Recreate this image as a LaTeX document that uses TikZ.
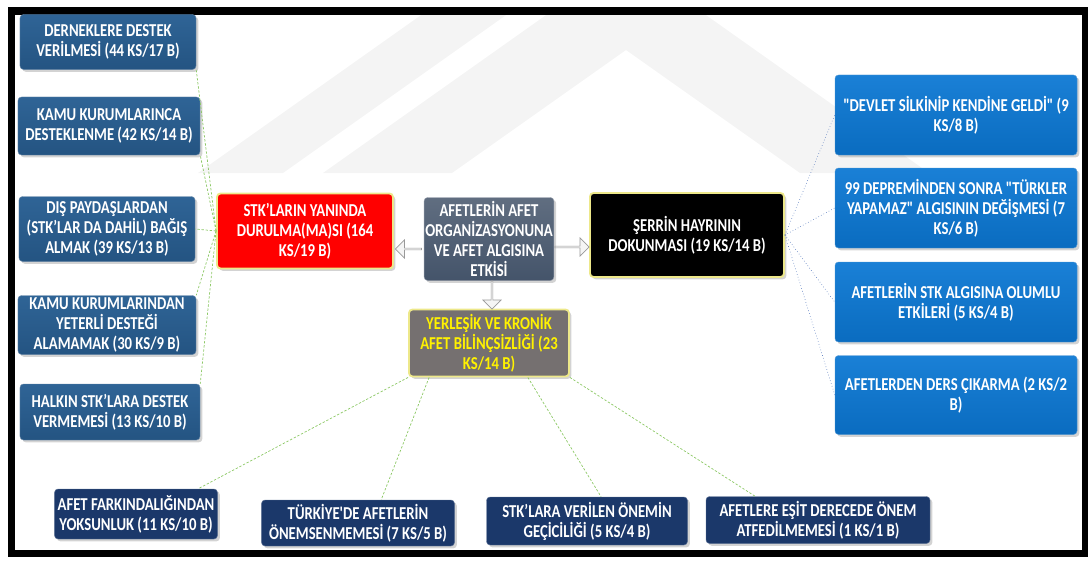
\documentclass[tikz,border=0pt]{standalone}
\usepackage{fontspec}
\setmainfont{Carlito}[FakeStretch=0.81]
\newfontfamily\plainquote{Carlito}[FakeStretch=0.81]
\newcommand{\straightdq}{{\plainquote\bfseries"}}
\usepackage{xcolor}
\usetikzlibrary{positioning, calc, shadows, shapes.arrows}
\definecolor{leftblue}{HTML}{245482}
\definecolor{leftblueTop}{HTML}{2F6496}
\definecolor{rightblue}{HTML}{0A6CC0}
\definecolor{rightblueTop}{HTML}{1A80D6}
\definecolor{navyblue}{HTML}{1B386A}
\definecolor{slateblue}{HTML}{44546A}
\definecolor{darkgray}{HTML}{757070}
\definecolor{glowyellow}{HTML}{EDE88A}
\definecolor{linegreen}{HTML}{8CC865}
\definecolor{lineblue}{HTML}{4A6FB8}
\definecolor{watermark}{HTML}{F4F4F4}

\begin{document}
\begin{tikzpicture}[
    x=0.03cm, y=-0.03cm,
    box/.style={
        rectangle, rounded corners=3pt, align=center, inner sep=1pt,
        font=\bfseries\fontsize{15.5}{17}\selectfont, text=white,
        drop shadow={opacity=0.35, shadow xshift=2pt, shadow yshift=-2pt}
    },
    lblock/.style={box, top color=leftblueTop, bottom color=leftblue, draw=leftblue!70!white, line width=0.4pt},
    rblock/.style={box, top color=rightblueTop, bottom color=rightblue, draw=rightblue!70!white, line width=0.4pt},
    bblock/.style={box, fill=navyblue, draw=navyblue!70!white, line width=0.4pt},
    glowblock/.style={box, draw=glowyellow, line width=1.6pt},
    harrow/.style={single arrow, draw=gray!80, fill=gray!8, line width=0.6pt,
        inner sep=0pt, minimum width=0.54cm, single arrow head extend=0.1cm},
    gline/.style={draw=linegreen, line width=0.6pt, dash pattern=on 2pt off 1.5pt},
    bline/.style={draw=lineblue, line width=0.5pt, dotted},
]
\useasboundingbox (0,0) rectangle (1088,561);

% ── Watermark ────────────────────────────────────────────────────────────
\fill[watermark] (198,173) -- (283,173) -- (509,13) -- (424,13) -- cycle;
\fill[watermark] (323,173) -- (549,13) -- (703,13) -- (929,173) -- (800,173)
    -- (626,50) -- (452,173) -- cycle;

% ── Frame ────────────────────────────────────────────────────────────────
\draw[line width=0.21cm] (11.5,11) rectangle (1085.5,553);

% ── Left column ──────────────────────────────────────────────────────────
\node[lblock, minimum width=5.28cm, minimum height=1.65cm] (dernek) at (108,42)
    {DERNEKLERE DESTEK\\VERİLMESİ (44 KS/17 B)};
\node[lblock, minimum width=5.46cm, minimum height=1.74cm] (kamu_destek) at (109,126)
    {KAMU KURUMLARINCA\\DESTEKLENME (42 KS/14 B)};
\node[lblock, minimum width=5.28cm, minimum height=1.95cm] (dis_bagis) at (107,229)
    {DIŞ PAYDAŞLARDAN\\(STK’LAR DA DAHİL) BAĞIŞ\\ALMAK (39 KS/13 B)};
\node[lblock, minimum width=5.34cm, minimum height=1.77cm] (kamu_yetersiz) at (107,325)
    {KAMU KURUMLARINDAN\\YETERLİ DESTEĞİ\\ALAMAMAK (30 KS/9 B)};
\node[lblock, minimum width=5.40cm, minimum height=1.68cm] (halk) at (110,412)
    {HALKIN STK’LARA DESTEK\\VERMEMESİ (13 KS/10 B)};

% ── Centre ───────────────────────────────────────────────────────────────
\node[glowblock, fill=red, minimum width=5.28cm, minimum height=2.25cm] (stk) at (305,231)
    {STK’LARIN YANINDA\\DURULMA(MA)SI (164\\KS/19 B)};
\node[box, top color=slateblue!85!white, bottom color=slateblue, draw=slateblue!60!white,
      minimum width=3.87cm, minimum height=2.49cm] (etki) at (489,239)
    {AFETLERİN AFET\\ORGANİZASYONUNA\\VE AFET ALGISINA\\ETKİSİ};
\node[glowblock, fill=darkgray, text=yellow, minimum width=4.8cm, minimum height=2.01cm]
    (bilincsiz) at (489,343)
    {YERLEŞİK VE KRONİK\\AFET BİLİNÇSİZLİĞİ (23\\KS/14 B)};
\node[glowblock, fill=black, minimum width=5.82cm, minimum height=2.52cm] (serrin) at (687,235)
    {ŞERRİN HAYRININ\\DOKUNMASI (19 KS/14 B)};

% ── Right column ─────────────────────────────────────────────────────────
\node[rblock, minimum width=7.26cm, minimum height=2.4cm] (devlet) at (956,115)
    {\straightdq DEVLET SİLKİNİP KENDİNE GELDİ\straightdq\ (9\\KS/8 B)};
\node[rblock, minimum width=7.26cm, minimum height=2.4cm] (deprem) at (956,208)
    {99 DEPREMİNDEN SONRA \straightdq TÜRKLER\\YAPAMAZ\straightdq\ ALGISININ DEĞİŞMESİ (7\\KS/6 B)};
\node[rblock, minimum width=7.26cm, minimum height=2.4cm] (stk_algi) at (956,302)
    {AFETLERİN STK ALGISINA OLUMLU\\ETKİLERİ (5 KS/4 B)};
\node[rblock, minimum width=7.26cm, minimum height=2.37cm] (ders) at (956,395)
    {AFETLERDEN DERS ÇIKARMA (2 KS/2\\B)};

% ── Bottom row ───────────────────────────────────────────────────────────
\node[bblock, minimum width=4.89cm, minimum height=1.5cm] (farkindalik) at (136,514)
    {AFET FARKINDALIĞINDAN\\YOKSUNLUK (11 KS/10 B)};
\node[bblock, minimum width=5.79cm, minimum height=1.38cm] (onemsenme) at (358,523)
    {TÜRKİYE{\plainquote\bfseries'}DE AFETLERİN\\ÖNEMSENMEMESİ (7 KS/5 B)};
\node[bblock, minimum width=6.03cm, minimum height=1.44cm] (gecicilik) at (587,521)
    {STK’LARA VERİLEN ÖNEMİN\\GEÇİCİLİĞİ (5 KS/4 B)};
\node[bblock, minimum width=6.72cm, minimum height=1.41cm] (esitlik) at (818,520)
    {AFETLERE EŞİT DERECEDE ÖNEM\\ATFEDİLMEMESİ (1 KS/1 B)};

% ── Block arrows ─────────────────────────────────────────────────────────
\node[harrow, shape border rotate=180, minimum height=0.78cm] (arr_left)
    at ($(stk.east)!0.5!(etki.west) + (0,14)$) {};
\node[harrow, minimum height=1.02cm] (arr_right)
    at ($(etki.east)!0.5!(serrin.west) + (0,10)$) {};
\node[harrow, shape border rotate=270, minimum height=0.84cm] (arr_down)
    at ($(etki.south)!0.5!(bilincsiz.north) + (3,0)$) {};

% ── Connectors ───────────────────────────────────────────────────────────
\draw[gline] (stk.west) -- (dernek.south east);
\draw[gline] (stk.west) -- (kamu_destek.south east);
\draw[gline] (stk.west) -- (dis_bagis.east);
\draw[gline] (stk.west) -- (kamu_yetersiz.north east);
\draw[gline] (stk.west) -- (halk.north east);

\draw[bline] (serrin.east) -- (devlet.west);
\draw[bline] (serrin.east) -- (deprem.west);
\draw[bline] (serrin.east) -- (stk_algi.west);
\draw[bline] (serrin.east) -- (ders.west);

\draw[gline] (bilincsiz.south west) -- ($(farkindalik.north west)!0.88!(farkindalik.north east)$);
\draw[gline] ($(bilincsiz.south west)!0.13!(bilincsiz.south east)$) -- ($(onemsenme.north west)!0.62!(onemsenme.north east)$);
\draw[gline] ($(bilincsiz.south west)!0.74!(bilincsiz.south east)$) -- ($(gecicilik.north west)!0.57!(gecicilik.north east)$);
\draw[gline] (bilincsiz.south east) -- ($(esitlik.north west)!0.22!(esitlik.north east)$);

\end{tikzpicture}
\end{document}
